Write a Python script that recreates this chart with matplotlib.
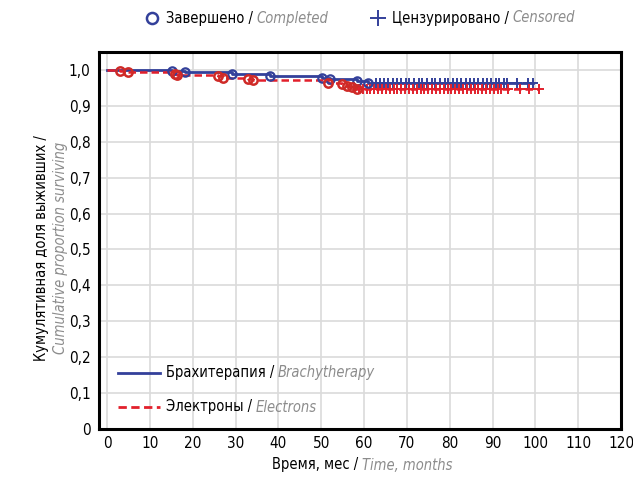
import matplotlib
matplotlib.use("Agg")
import matplotlib.pyplot as plt
from matplotlib import font_manager
from matplotlib.lines import Line2D

# ---- data -------------------------------------------------------------
brachy_event_t = [15.2, 18.2, 29.1, 38.0, 50.1, 52.0, 58.3, 61.0]
brachy_event_s = [0.997, 0.994, 0.990, 0.984, 0.977, 0.974, 0.969, 0.965]
brachy_cens_t = [62.7, 63.8, 64.6, 65.7, 66.8, 67.6, 68.7, 69.8, 70.6, 71.7,
                 72.8, 73.6, 74.7, 75.8, 76.6, 77.7, 78.8, 79.6, 80.7, 81.8,
                 82.6, 83.7, 84.8, 85.6, 86.7, 87.8, 88.6, 89.7, 90.8, 91.6,
                 92.7, 93.5, 95.7, 98.3, 99.5]

electron_event_t = [3.0, 4.9, 15.9, 16.4, 26.0, 27.1, 32.9, 34.1,
                    51.6, 54.8, 56.0, 57.1, 58.3]
electron_event_s = [0.997, 0.993, 0.989, 0.985, 0.982, 0.978, 0.975, 0.971,
                    0.965, 0.961, 0.956, 0.952, 0.948]
electron_cens_t = [57.6, 58.9, 59.7, 60.6, 61.5, 62.4, 63.3, 64.2, 65.1, 66.0,
                   66.9, 67.8, 68.7, 69.6, 70.5, 71.4, 72.3, 73.2, 74.1, 75.0,
                   75.9, 76.8, 77.7, 78.6, 79.5, 80.4, 81.3, 82.2, 83.1, 84.0,
                   84.9, 85.8, 86.7, 87.6, 88.5, 89.4, 90.3, 91.2, 92.1, 93.6,
                   96.4, 98.5, 100.9]

x_ticks = [0, 10, 20, 30, 40, 50, 60, 70, 80, 90, 100, 110, 120]
y_ticks = [0, 0.1, 0.2, 0.3, 0.4, 0.5, 0.6, 0.7, 0.8, 0.9, 1.0]
y_tick_labels = ["0", "0,1", "0,2", "0,3", "0,4", "0,5", "0,6", "0,7",
                 "0,8", "0,9", "1,0"]

# ---- style ------------------------------------------------------------
names = {f.name for f in font_manager.fontManager.ttflist}
if "Liberation Sans Narrow" in names:
    plt.rcParams["font.family"] = ["Liberation Sans Narrow", "DejaVu Sans"]
else:
    plt.rcParams["font.family"] = ["DejaVu Sans"]
    plt.rcParams["font.stretch"] = "condensed"

BLUE = "#33409a"
RED = "#e2202c"
RED_MK = "#cf2a27"
GRAY = "#8c8c8c"
FS = 10.5
TICK_FS = 11

W, H = 633, 482
fig = plt.figure(figsize=(W / 100, H / 100), dpi=100)
ax = fig.add_axes([99 / W, 1 - 429 / H, 522 / W, 377 / H])


def step_curve(t_events, s_events, t_end):
    xs = [0.0] + list(t_events) + [t_end]
    ys = [1.0] + list(s_events) + [s_events[-1]]
    return xs, ys


def surv_at(t, t_events, s_events):
    s = 1.0
    for te, se in zip(t_events, s_events):
        if te <= t:
            s = se
    return s


bx, by = step_curve(brachy_event_t, brachy_event_s, max(brachy_cens_t))
ex, ey = step_curve(electron_event_t, electron_event_s, max(electron_cens_t))

ax.step(bx, by, where="post", color=BLUE, lw=2.0, zorder=3)
ax.step(ex, ey, where="post", color=RED, lw=1.8, dashes=(3.0, 1.6), zorder=4)

# censored observations
ax.plot(brachy_cens_t, [surv_at(t, brachy_event_t, brachy_event_s) for t in brachy_cens_t],
        ls="none", marker="+", ms=7, mew=1.4, color=BLUE, zorder=5)
ax.plot(electron_cens_t, [surv_at(t, electron_event_t, electron_event_s) for t in electron_cens_t],
        ls="none", marker="+", ms=7, mew=1.4, color=RED, zorder=6)

# completed observations
ax.plot(brachy_event_t, brachy_event_s, ls="none", marker="o", ms=6,
        mfc="none", mec=BLUE, mew=1.6, zorder=7)
ax.plot(electron_event_t, electron_event_s, ls="none", marker="o", ms=6,
        mfc="none", mec=RED_MK, mew=1.8, zorder=8)

ax.set_xlim(-1.87, 120.0)
ax.set_ylim(0, 1.05)
ax.set_xticks(x_ticks)
ax.set_xticklabels([str(v) for v in x_ticks])
ax.set_yticks(y_ticks)
ax.set_yticklabels(y_tick_labels)
ax.tick_params(length=0, labelsize=TICK_FS, colors="black")
ax.tick_params(axis="x", pad=5)
ax.tick_params(axis="y", pad=6)
ax.grid(True, color="#dadada", lw=1.2)
ax.set_axisbelow(True)
for sp in ax.spines.values():
    sp.set_color("black")
    sp.set_linewidth(2.2)


# ---- text helpers -----------------------------------------------------
def two_part(x_px, y_px, black, gray, ha="left", gap_pt=2.5):
    """Black label followed by a gray italic one, in figure pixels."""
    t1 = fig.text(x_px / W, 1 - y_px / H, black, fontsize=FS, color="black",
                  ha="left", va="center")
    t2 = ax.annotate(gray, xy=(1, 0.5), xycoords=t1, xytext=(gap_pt, 0),
                     textcoords="offset points", fontsize=FS, color=GRAY,
                     style="italic", ha="left", va="center",
                     annotation_clip=False)
    if ha == "center":
        r = fig.canvas.get_renderer()
        w1 = t1.get_window_extent(r).width
        w2 = t2.get_window_extent(r).width
        total = w1 + w2 + gap_pt * 100 / 72
        t1.set_x((x_px - total / 2) / W)
    return t1, t2


# top legend
fig.add_artist(Line2D([152 / W], [1 - 18 / H], ls="none", marker="o", ms=8,
                      mfc="none", mec=BLUE, mew=1.8))
two_part(166, 18, "Завершено /", "Completed")
fig.add_artist(Line2D([378 / W], [1 - 18 / H], ls="none", marker="+", ms=11,
                      mew=1.4, color=BLUE))
two_part(392, 18, "Цензурировано /", "Censored")

# inner legend
fig.add_artist(Line2D([118 / W, 160 / W], [1 - 373 / H, 1 - 373 / H],
                      color=BLUE, lw=2.0))
two_part(166, 373, "Брахитерапия /", "Brachytherapy")
fig.add_artist(Line2D([118 / W, 160 / W], [1 - 407 / H, 1 - 407 / H],
                      color=RED, lw=2.0, dashes=(3.0, 1.6)))
two_part(166, 407, "Электроны /", "Electrons")

# axis titles
two_part(362, 465, "Время, мес /", "Time, months", ha="center")
fig.text(42 / W, 1 - 248 / H, "Кумулятивная доля выживших /", rotation=90,
         fontsize=FS, color="black", ha="center", va="center")
fig.text(61 / W, 1 - 248 / H, "Cumulative proportion surviving", rotation=90,
         fontsize=FS, color=GRAY, style="italic", ha="center", va="center")

fig.savefig("out.png", dpi=100)
